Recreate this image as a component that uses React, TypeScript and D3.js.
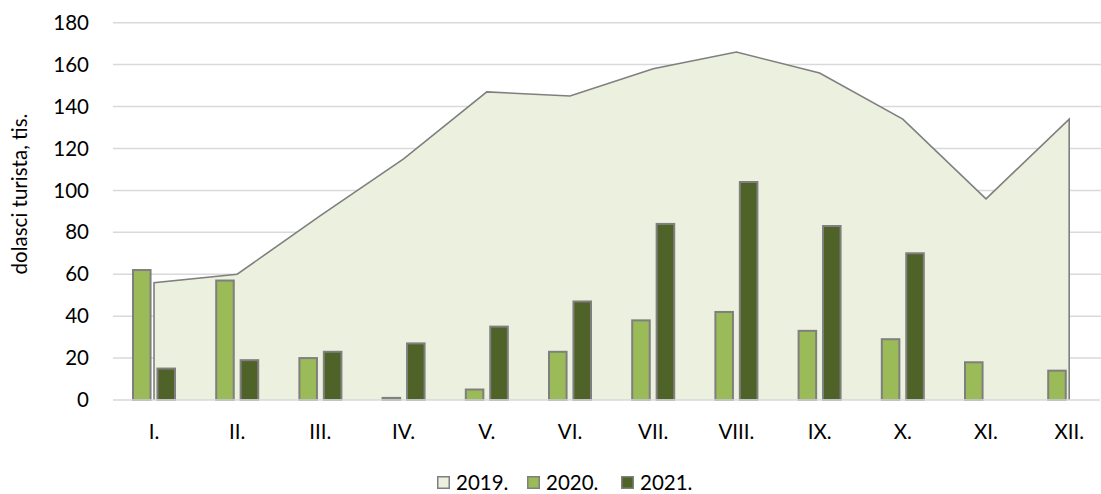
import { useMemo } from 'react';
import * as d3 from 'd3';

const WIDTH = 1101;
const HEIGHT = 494;
const FONT = 'Lato, "Open Sans", sans-serif';
const FONT_SIZE = 20.5;

const MONTHS = ['I.', 'II.', 'III.', 'IV.', 'V.', 'VI.', 'VII.', 'VIII.', 'IX.', 'X.', 'XI.', 'XII.'];
const ARRIVALS_2019 = [56, 60, 88, 115, 147, 145, 158, 166, 156, 134, 96, 134];
const ARRIVALS_2020 = [62, 57, 20, 1, 5, 23, 38, 42, 33, 29, 18, 14];
const ARRIVALS_2021 = [15, 19, 23, 27, 35, 47, 84, 104, 83, 70, 0, 0];
const Y_TICKS = [0, 20, 40, 60, 80, 100, 120, 140, 160, 180];

const SERIES = [
  { key: '2019.', fill: '#ebf1de' },
  { key: '2020.', fill: '#9bbb59' },
  { key: '2021.', fill: '#4f6228' },
];
const STROKE = '#7f7f7f';

export default function App() {
  const { x, y, xBar, areaD, lineD } = useMemo(() => {
    const x = d3.scaleBand<string>().domain(MONTHS).range([112.4, 1110.8]).padding(0);
    const y = d3.scaleLinear().domain([0, 180]).range([400, 22.7]);
    const half = x.bandwidth() / 2;
    const xBar = d3
      .scaleBand<string>()
      .domain(['2020.', '2021.'])
      .range([half - 22, half + 22])
      .paddingInner(0.2);

    const pts = MONTHS.map((m, i) => ({ cx: (x(m) ?? 0) + half, v: ARRIVALS_2019[i] }));
    const areaD = d3
      .area<{ cx: number; v: number }>()
      .x((d) => d.cx)
      .y0(y(0))
      .y1((d) => y(d.v))(pts) ?? '';
    const first = pts[0];
    const last = pts[pts.length - 1];
    const lineD =
      `M${first.cx},${y(0)}` +
      pts.map((p) => `L${p.cx},${y(p.v)}`).join('') +
      `L${last.cx},${y(0)}`;
    return { x, y, xBar, areaD, lineD };
  }, []);

  const half = x.bandwidth() / 2;

  return (
    <svg width={WIDTH} height={HEIGHT} style={{ position: 'absolute', left: 0, top: 0 }}>
      <rect width={WIDTH} height={HEIGHT} fill="#fff" />

      {/* gridlines */}
      {Y_TICKS.filter((t) => t > 0).map((t) => (
        <line key={t} x1={113} x2={WIDTH} y1={y(t)} y2={y(t)} stroke="#d9d9d9" strokeWidth={1.5} />
      ))}

      {/* 2019 area */}
      <path d={areaD} fill={SERIES[0].fill} />
      <path d={lineD} fill="none" stroke={STROKE} strokeWidth={1.6} strokeLinejoin="miter" />

      {/* bars */}
      {MONTHS.map((m, i) => (
        <g key={m} transform={`translate(${x(m)},0)`}>
          {[
            { k: '2020.', v: ARRIVALS_2020[i], fill: SERIES[1].fill },
            { k: '2021.', v: ARRIVALS_2021[i], fill: SERIES[2].fill },
          ]
            .filter((b) => b.v > 0)
            .map((b) => (
              <rect
                key={b.k}
                x={(xBar(b.k) ?? 0) + 1}
                y={y(b.v)}
                width={xBar.bandwidth() - 2}
                height={y(0) - y(b.v)}
                fill={b.fill}
                stroke={STROKE}
                strokeWidth={2}
              />
            ))}
        </g>
      ))}

      {/* baseline */}
      <line x1={113} x2={1100} y1={y(0)} y2={y(0)} stroke="#d9d9d9" strokeWidth={1.5} />

      {/* y tick labels */}
      {Y_TICKS.map((t) => (
        <text
          key={t}
          x={89}
          y={y(t)}
          dy="0.35em"
          textAnchor="end"
          fontFamily={FONT}
          fontSize={FONT_SIZE}
          fill="#000"
        >
          {t}
        </text>
      ))}

      {/* x labels */}
      {MONTHS.map((m) => (
        <text
          key={m}
          x={(x(m) ?? 0) + half}
          y={432}
          dy="0.35em"
          textAnchor="middle"
          fontFamily={FONT}
          fontSize={FONT_SIZE}
          fill="#000"
        >
          {m}
        </text>
      ))}

      {/* y axis title */}
      <text
        transform={`translate(20,194) rotate(-90)`}
        dy="0.35em"
        textAnchor="middle"
        fontFamily={FONT}
        fontSize={FONT_SIZE}
        fill="#000"
      >
        dolasci turista, tis.
      </text>

      {/* legend */}
      {SERIES.map((s, i) => {
        const lx = [437, 527, 621][i];
        return (
          <g key={s.key} transform={`translate(${lx},476)`}>
            <rect x={0.75} y={0.75} width={11.5} height={11.5} fill={s.fill} stroke={STROKE} strokeWidth={1.5} />
            <text x={19} y={6.5} dy="0.35em" fontFamily={FONT} fontSize={FONT_SIZE} fill="#000">
              {s.key}
            </text>
          </g>
        );
      })}
    </svg>
  );
}
